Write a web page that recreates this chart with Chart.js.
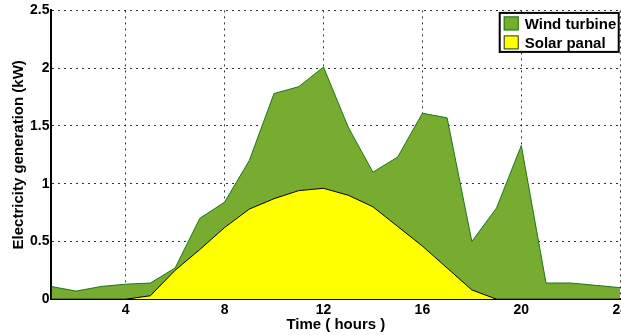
<!DOCTYPE html>
<html>
<head>
<meta charset="utf-8">
<script src="https://cdn.jsdelivr.net/npm/chart.js@4/dist/chart.umd.min.js"></script>
<style>
  html, body { margin: 0; padding: 0; background: #fff; overflow: hidden; }
  #wrap { position: relative; width: 631px; height: 335px; }
</style>
</head>
<body>
<div id="wrap"><canvas id="chart"></canvas></div>
<script>
// hours of the day
const hours = [1, 2, 3, 4, 5, 6, 7, 8, 9, 10, 11, 12, 13, 14, 15, 16, 17, 18, 19, 20, 21, 22, 23, 24];
// solar panel output (kW), bottom layer
const solarPanel = [0, 0, 0, 0, 0.03, 0.25, 0.43, 0.62, 0.78, 0.87, 0.94, 0.96, 0.90, 0.80, 0.63, 0.46, 0.27, 0.08, 0, 0, 0, 0, 0, 0];
// wind turbine output (kW), stacked on top of solar
const windTurbine = [0.11, 0.07, 0.11, 0.13, 0.11, 0.02, 0.27, 0.22, 0.42, 0.91, 0.90, 1.05, 0.59, 0.30, 0.60, 1.15, 1.30, 0.42, 0.79, 1.33, 0.14, 0.14, 0.12, 0.10];
const xTicks = [4, 8, 12, 16, 20, 24];
const yTicks = [0, 0.5, 1, 1.5, 2, 2.5];

const seriesLabels = ["Wind turbine", "Solar panal"];

const FONT = "'Liberation Sans', Arial, sans-serif";
const GREEN = "rgb(119, 172, 48)";
const GREEN_LINE = "rgb(25, 120, 25)";
const YELLOW = "rgb(255, 255, 0)";

// legend box drawn inside the plot, top right
const boxLegend = {
  id: "boxLegend",
  afterDraw(chart) {
    const { ctx, chartArea } = chart;
    const w = 119, h = 39;
    const x = chartArea.right - w - 1.5;
    const y = chartArea.top + 2.5;
    ctx.save();
    ctx.fillStyle = "#fff";
    ctx.fillRect(x, y, w, h);
    ctx.strokeStyle = "#000";
    ctx.lineWidth = 2;
    ctx.strokeRect(x, y, w, h);
    const items = [
      { text: seriesLabels[0], fill: GREEN, stroke: GREEN_LINE },
      { text: seriesLabels[1], fill: YELLOW, stroke: "#333" }
    ];
    ctx.font = "bold 15px " + FONT;
    ctx.textBaseline = "middle";
    items.forEach((it, i) => {
      const cy = y + 10.5 + i * 19;
      ctx.fillStyle = it.fill;
      ctx.fillRect(x + 4, cy - 7, 15, 14);
      ctx.strokeStyle = it.stroke;
      ctx.lineWidth = 1;
      ctx.strokeRect(x + 4.5, cy - 6.5, 14, 13);
      ctx.fillStyle = "#000";
      ctx.fillText(it.text, x + 25, cy + 1);
    });
    ctx.restore();
  }
};

new Chart(document.getElementById("chart"), {
  type: "line",
  data: {
    labels: hours,
    datasets: [
      {
        label: seriesLabels[1],
        data: hours.map((h, i) => ({ x: h, y: solarPanel[i] })),
        backgroundColor: YELLOW,
        borderColor: "#000",
        borderWidth: 1,
        pointRadius: 0,
        tension: 0,
        fill: "origin"
      },
      {
        label: seriesLabels[0],
        data: hours.map((h, i) => ({ x: h, y: windTurbine[i] })),
        backgroundColor: GREEN,
        borderColor: GREEN_LINE,
        borderWidth: 1,
        pointRadius: 0,
        tension: 0,
        fill: "-1"
      }
    ]
  },
  options: {
    responsive: true,
    maintainAspectRatio: false,
    animation: false,
    layout: { padding: { top: 10, left: 10, right: 0, bottom: 1 } },
    plugins: {
      legend: { display: false },
      tooltip: { enabled: false }
    },
    scales: {
      x: {
        type: "linear",
        min: 1,
        max: 24,
        afterBuildTicks: (axis) => { axis.ticks = xTicks.map(v => ({ value: v })); },
        grid: {
          color: "#333",
          lineWidth: 1,
          drawTicks: false
        },
        border: { color: "#000", width: 2, dash: [2, 4] },
        ticks: {
          color: "#000",
          padding: 3,
          maxRotation: 0,
          font: { family: FONT, size: 14, weight: "bold" }
        },
        title: {
          display: true,
          text: "Time ( hours )",
          color: "#000",
          padding: { top: -6, bottom: 0 },
          font: { family: FONT, size: 15, weight: "bold" }
        }
      },
      y: {
        type: "linear",
        stacked: true,
        min: 0,
        max: 2.5,
        afterBuildTicks: (axis) => { axis.ticks = yTicks.map(v => ({ value: v })); },
        grid: {
          color: "#333",
          lineWidth: 1,
          drawTicks: false
        },
        border: { color: "#000", width: 2, dash: [2, 4] },
        ticks: {
          color: "#000",
          padding: 2,
          callback: (v) => String(v),
          font: { family: FONT, size: 14, weight: "bold" }
        },
        title: {
          display: true,
          text: "Electricity generation (kW)",
          color: "#000",
          padding: { top: 0, bottom: 0 },
          font: { family: FONT, size: 15, weight: "bold" }
        }
      }
    }
  },
  plugins: [boxLegend]
});
</script>
</body>
</html>
